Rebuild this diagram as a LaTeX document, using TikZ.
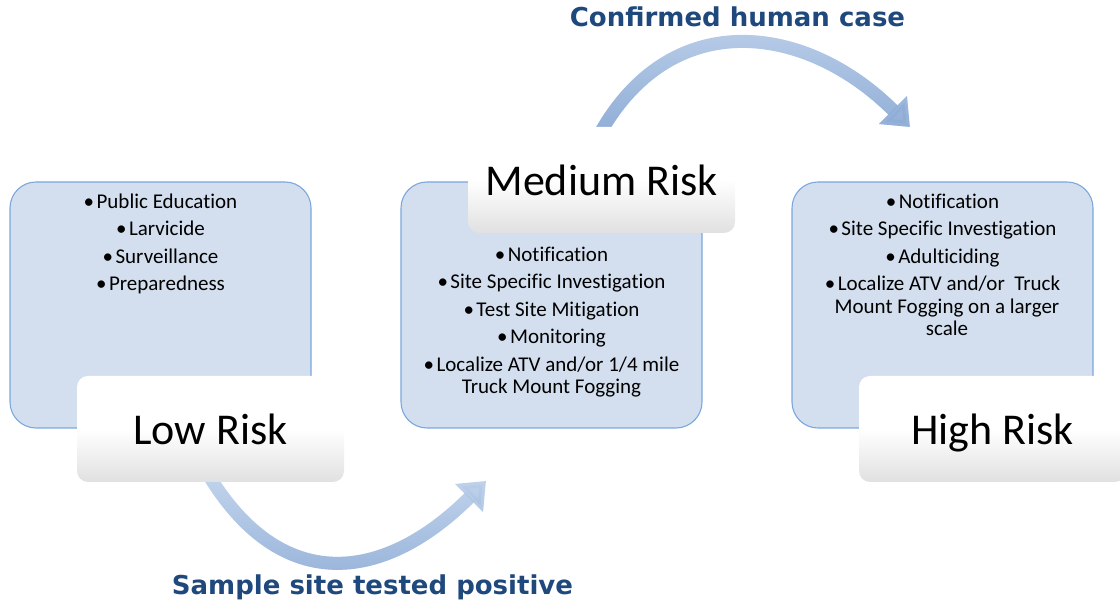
\documentclass[tikz,border=0pt]{standalone}
\usepackage{fontspec}
\setmainfont{Carlito}[Ligatures=NoCommon]
\newfontfamily\capfont{DejaVu Sans}
\usetikzlibrary{arrows.meta,positioning,backgrounds,fadings}
\definecolor{rkfill}{HTML}{D3DFEE}
\definecolor{rkline}{HTML}{7BA7DC}
\definecolor{rkarrow}{HTML}{C3D5ED}
\definecolor{rkarrowdk}{HTML}{8FADD6}
\definecolor{rknavy}{HTML}{1F497D}
\newcommand{\bul}{•\hspace{2.5pt}}
\tikzset{
  riskbox/.style={draw=rkline,fill=rkfill,rounded corners=26pt,line width=1.1pt,
                  minimum width=301pt,minimum height=246pt,inner sep=0pt},
  risklab/.style={rounded corners=11pt,top color=white,bottom color=black!12,middle color=white,
                  minimum width=267pt,minimum height=106pt,inner sep=0pt,text depth=0pt,
                  font=\fontsize{44}{48}\selectfont},
  items/.style={align=center,inner sep=0pt,font=\fontsize{21}{22.5}\selectfont},
  flow/.style={draw=rkarrow,line width=13pt,-{Triangle[length=24pt,width=38pt]}},
  flowdark/.style={flow,draw=rkarrowdk,path fading=north},
  caption/.style={font=\capfont\bfseries\fontsize{26}{30}\selectfont,text=rknavy,
                  anchor=base,inner sep=0pt},
}
\begin{document}
\begin{tikzpicture}[x=1pt,y=1pt]
  \clip[use as bounding box] (0,0) rectangle (1120,604);
  % the three stages
  \node[riskbox] (lowbox) at (160.5,299) {};
  \node[riskbox] (midbox) at (551.5,299) {};
  \node[riskbox] (highbox) at (942.5,299) {};
  \node[risklab] (lowlab) at (210.5,175) {Low Risk};
  \node[risklab] (midlab) at (601.5,424) {Medium Risk};
  \node[risklab] (highlab) at (992.5,175) {High Risk};
  % transitions
  \coordinate (posend) at (486,123);
  \coordinate (caseend) at (910,477);
  \begin{scope}[on background layer]
    \draw[flow] ([yshift=4pt]lowlab.south) to[out=-58,in=-135,looseness=1.3] (posend);
    \draw[flowdark] ([yshift=4pt]lowlab.south) to[out=-58,in=-135,looseness=1.3] (posend);
    \draw[flow] ([yshift=-4pt]midlab.north) to[out=60,in=135,looseness=1.2] (caseend);
    \draw[flowdark] ([yshift=-4pt]midlab.north) to[out=60,in=135,looseness=1.2] (caseend);
  \end{scope}
  \node[items,below=12pt of lowbox.north] (lowlist)
    {\bul Public Education\\[5pt]\bul Larvicide\\[5pt]\bul Surveillance\\[5pt]\bul Preparedness};
  \node[items,below=65pt of midbox.north] (midlist)
    {\bul Notification\\[5pt]\bul Site Specific Investigation\\[5pt]\bul Test Site Mitigation\\[5pt]%
     \bul Monitoring\\[5pt]\bul Localize ATV and/or 1/4 mile\\Truck Mount Fogging};
  \node[items,below=12pt of highbox.north] (highlist)
    {\bul Notification\\[5pt]\bul Site Specific Investigation\\[5pt]\bul Adulticiding\\[5pt]%
     \bul Localize ATV and/or\ \ Truck\\\hspace{9pt}Mount Fogging on a larger\\\hspace{9pt}scale};
  \node[caption] (poslab) at (372.5,9) {Sample site tested positive};
  \node[caption] (caselab) at (737.5,577) {Confirmed human case};
\end{tikzpicture}
\end{document}
